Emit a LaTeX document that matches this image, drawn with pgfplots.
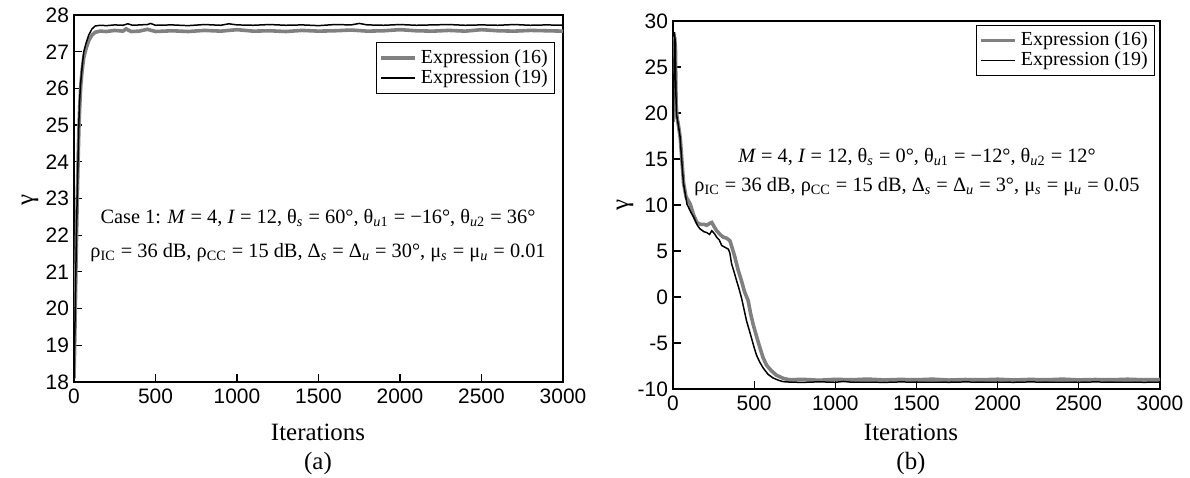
\documentclass[border=0pt]{standalone}
\usepackage{fontspec}
\setmainfont{Liberation Serif}
\newfontfamily\ticksf{Liberation Sans}
\usepackage{pgfplots}
\pgfplotsset{compat=1.18}

\definecolor{exgray}{RGB}{128,128,128}

\pgfplotsset{
  panel/.style={
    scale only axis,
    axis line style={line width=0.8pt},
    tick align=inside,
    xtick pos=left, ytick pos=left,
    major tick length=4pt,
    tick style={line width=0.6pt, black},
    xmin=0, xmax=3000,
    xtick={0,500,...,3000},
    scaled ticks=false,
    /pgf/number format/set thousands separator={},
    /pgf/number format/assume math mode=true,
    tick label style={font=\fontsize{10.5}{10.5}\selectfont\ticksf},
    yticklabel style={xshift=1pt},
    legend cell align=left,
    legend style={draw=black, line width=0.5pt, font=\fontsize{10}{11}\selectfont,
      inner sep=1.5pt, row sep=-2.5pt},
  },
  s16/.style={exgray, line width=1.8pt, no marks},
  s19/.style={black, line width=0.75pt, no marks},
}

\begin{document}
\begin{tikzpicture}
\useasboundingbox (0,0) rectangle (595bp,239bp);

% (a)
\begin{axis}[panel, at={(37bp,48bp)}, width=244.5bp, height=183.5bp,
  ymin=18, ymax=28, ytick={18,19,...,28},
  legend style={at={(rel axis cs:0.984,0.926)}, anchor=north east}]
\addplot[s16] coordinates {
(0,18.1) (4,19) (8,20) (12,21.1) (16,22.1) (20,23.0) (25,24.0) (30,24.9) (36,25.6) (42,26.1)
(50,26.5) (60,26.85) (75,27.1) (90,27.3) (110,27.45) (130,27.53) (160,27.56) (200,27.55)
(250,27.58) (300,27.56) (320,27.62) (350,27.55) (400,27.56) (450,27.61) (500,27.55) (600,27.57)
(700,27.55) (800,27.58) (900,27.56) (1000,27.6) (1100,27.56) (1200,27.57) (1300,27.55) (1400,27.58)
(1500,27.56) (1600,27.57) (1700,27.59) (1800,27.56) (1900,27.57) (2000,27.6) (2100,27.57)
(2200,27.56) (2300,27.58) (2400,27.56) (2500,27.6) (2600,27.57) (2700,27.56) (2800,27.58)
(2900,27.57) (3000,27.56)
};
\addlegendentry{Expression (16)}
\addplot[s19] coordinates {
(0,18.1) (3,18.9) (6,19.6) (9,20.4) (12,21.2) (15,22.0) (18,22.7) (22,23.5) (26,24.3) (30,25.1)
(35,25.7) (40,26.1) (50,26.6) (60,27.0) (75,27.25) (90,27.45) (110,27.62) (130,27.7) (160,27.72)
(200,27.71) (250,27.73) (300,27.72) (330,27.76) (360,27.72) (450,27.74) (470,27.77) (500,27.72)
(600,27.73) (700,27.71) (800,27.74) (900,27.72) (950,27.76) (1000,27.73) (1100,27.72) (1200,27.74)
(1300,27.72) (1400,27.73) (1500,27.71) (1600,27.74) (1700,27.73) (1750,27.77) (1800,27.73)
(1900,27.72) (2000,27.74) (2100,27.72) (2200,27.73) (2300,27.74) (2400,27.72) (2500,27.73)
(2600,27.72) (2700,27.74) (2800,27.72) (2900,27.73) (3000,27.72)
};
\addlegendentry{Expression (19)}
\end{axis}

% (b)
\begin{axis}[panel, at={(336.5bp,44.5bp)}, width=243.5bp, height=184bp,
  ymin=-10, ymax=30, ytick={-10,-5,...,30},
  legend style={at={(rel axis cs:0.99,0.99)}, anchor=north east}]
\addplot[s16] coordinates {
(0,19) (5,23.5) (10,28.3) (15,27) (19,21) (25,19.5) (35,18.5) (45,17.2) (55,14.8) (65,12.4)
(80,10.9) (106,10.1) (125,9.0) (147,8.1) (170,7.9) (190,7.9) (208,7.8) (225,8.0) (239,8.1)
(255,7.6) (269,7.2) (290,6.8) (310,6.5) (330,6.4) (351,6.1) (365,5.3) (382,4.3) (400,3.0)
(422,1.75) (440,0.6) (463,-0.4) (478,-1.8) (494,-3) (515,-4.3) (535,-5.5) (555,-6.6) (576,-7.4)
(605,-8.0) (637,-8.5) (680,-8.85) (718,-9.0) (800,-8.95) (900,-9.05) (1000,-8.95) (1100,-9.0)
(1200,-8.92) (1300,-9.02) (1400,-8.96) (1500,-9.0) (1600,-8.93) (1700,-9.03) (1800,-8.97)
(1900,-9.0) (2000,-8.94) (2100,-9.02) (2200,-8.96) (2300,-9.0) (2400,-8.93) (2500,-9.01)
(2600,-8.97) (2700,-9.0) (2800,-8.94) (2900,-9.0) (3000,-8.97)
};
\addlegendentry{Expression (16)}
\addplot[s19] coordinates {
(0,19) (5,23) (10,28.8) (14,27.5) (18,22) (22,19.8) (30,19) (43,17.5) (55,14.5) (65,12.3)
(86,10.1) (110,9.2) (127,8.7) (150,7.8) (167,7.4) (190,7.1) (208,7.0) (225,6.8) (239,7.2)
(255,6.9) (269,6.5) (285,6.2) (300,5.6) (320,5.4) (341,5.2) (350,4.8) (361,3.6) (375,2.8)
(392,1.75) (405,1.0) (422,-0.1) (437,-1.3) (453,-2.6) (468,-3.5) (484,-4.5) (500,-5.5)
(514,-6.3) (535,-7.1) (555,-7.7) (585,-8.4) (616,-8.8) (650,-9.05) (678,-9.2) (720,-9.25)
(800,-9.28) (900,-9.22) (1000,-9.27) (1050,-9.18) (1100,-9.26) (1200,-9.24) (1300,-9.28)
(1400,-9.23) (1500,-9.26) (1600,-9.24) (1700,-9.27) (1800,-9.23) (1900,-9.26) (2000,-9.25)
(2100,-9.27) (2200,-9.23) (2300,-9.26) (2400,-9.24) (2500,-9.27) (2600,-9.23) (2700,-9.26)
(2800,-9.24) (2900,-9.27) (3000,-9.25)
};
\addlegendentry{Expression (19)}
\end{axis}

% labels
\node[font=\fontsize{12.5}{13}\selectfont] at (159bp,23bp) {Iterations};
\node[font=\fontsize{12.5}{13}\selectfont] at (455.5bp,23bp) {Iterations};
\node[font=\fontsize{12.5}{13}\selectfont] at (159bp,7bp) {(a)};
\node[font=\fontsize{12.5}{13}\selectfont] at (455.5bp,7bp) {(b)};
\node[font=\fontsize{12.5}{13}\selectfont, rotate=90] at (15bp,139bp) {γ};
\node[font=\fontsize{12.5}{13}\selectfont, rotate=90] at (312.5bp,136.5bp) {γ};

% annotations
\node[font=\fontsize{10.2}{11}\selectfont] at (159bp,130bp)
  {Case 1: \textit{M} = 4, \textit{I} = 12, θ\textsubscript{\textit{s}} = 60°, θ\textsubscript{\textit{u}1} = −16°, θ\textsubscript{\textit{u}2} = 36°};
\node[font=\fontsize{10.2}{11}\selectfont] at (159bp,112.5bp)
  {ρ\textsubscript{IC} = 36 dB, ρ\textsubscript{CC} = 15 dB, Δ\textsubscript{\textit{s}} = Δ\textsubscript{\textit{u}} = 30°, μ\textsubscript{\textit{s}} = μ\textsubscript{\textit{u}} = 0.01};
\node[font=\fontsize{10.2}{11}\selectfont] at (458.5bp,160.5bp)
  {\textit{M} = 4, \textit{I} = 12, θ\textsubscript{\textit{s}} = 0°, θ\textsubscript{\textit{u}1} = −12°, θ\textsubscript{\textit{u}2} = 12°};
\node[font=\fontsize{10.2}{11}\selectfont] at (458.5bp,145.5bp)
  {ρ\textsubscript{IC} = 36 dB, ρ\textsubscript{CC} = 15 dB, Δ\textsubscript{\textit{s}} = Δ\textsubscript{\textit{u}} = 3°, μ\textsubscript{\textit{s}} = μ\textsubscript{\textit{u}} = 0.05};
\end{tikzpicture}
\end{document}
